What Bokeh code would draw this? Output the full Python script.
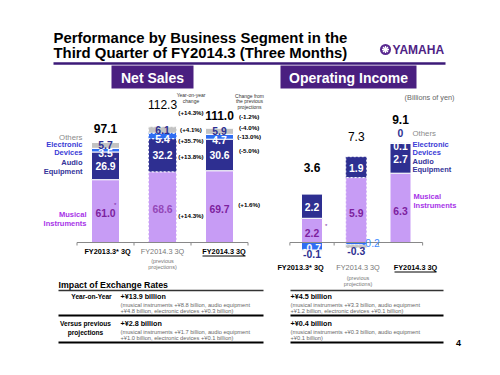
from bokeh.plotting import figure
from bokeh.models import Range1d
from bokeh.core.properties import value
from bokeh.embed import file_html
from bokeh.resources import INLINE

# ---------------- data ----------------
title_lines = ["Performance by Business Segment in the",
               "Third Quarter of FY2014.3 (Three Months)"]
periods = ["FY2013.3* 3Q", "FY2014.3 3Q", "FY2014.3 3Q"]
segments = ["Musical Instruments", "Audio Equipment", "Electronic Devices", "Others"]

ns_musical = [61.0, 68.6, 69.7]
ns_audio = [26.9, 32.2, 30.6]
ns_electronic = [3.5, 5.4, 4.7]
ns_others = [5.7, 6.1, 5.9]
ns_total = [97.1, 112.3, 111.0]
# order: musical, audio, electronic, others, total
ns_yoy = ["(+14.3%)", "(+13.8%)", "(+35.7%)", "(+4.1%)", "(+14.3%)"]
ns_vs_proj = ["(+1.6%)", "(-5.0%)", "(-13.0%)", "(-4.0%)", "(-1.2%)"]

oi_musical = [2.2, 5.9, 6.3]
oi_audio = [2.2, 1.9, 2.7]
oi_electronic = [-0.7, -0.2, 0.1]
oi_others = [-0.1, -0.3, 0.0]
oi_total = [3.6, 7.3, 9.1]

fx_rows = [["Year-on-Year"], ["Versus previous", "projections"]]
fx_ns_head = ["+¥13.9 billion", "+¥2.8 billion"]
fx_ns_detail = [["(musical instruments +¥8.8 billion, audio equipment",
                 "+¥4.8 billion, electronic devices +¥0.3 billion)"],
                ["(musical instruments +¥1.7 billion, audio equipment",
                 "+¥1.0 billion, electronic devices +¥0.1 billion)"]]
fx_oi_head = ["+¥4.5 billion", "+¥0.4 billion"]
fx_oi_detail = [["(musical instruments +¥3.3 billion, audio equipment",
                 "+¥1.2 billion, electronic devices +¥0.1 billion)"],
                ["(musical instruments +¥0.3 billion, audio equipment",
                 "+¥0.1 billion)"]]

# ---------------- styles ----------------
FONT = value("Liberation Sans")
PURPLE_DARK = "#4a1f80"
C_MI, C_AU, C_EL, C_OT = "#c79cf5", "#2e2f91", "#2f6df2", "#c3c3c3"
seg_colors = [C_MI, C_AU, C_EL, C_OT]
LBL_MI = "#7d1f9e"
LEG = {"Others": "#8a8a8a", "El": "#3a3ad6", "Au": "#333399", "MI": "#a733e8"}
NUM = 10.4     # in-bar numbers
TOT = 12.0     # totals
LEGF = 7.5     # side labels

# geometry (page pixel coordinates)
W, H = 484, 359
BASE = 242.0
NS_K, NS_X0, NS_DX, NS_W = 1.03, 105.0, 57.0, 28.0
OI_K, OI_X0, OI_DX, OI_W = 11.0, 311.5, 44.25, 21.0

p = figure(width=W, height=H, x_range=Range1d(0, W), y_range=Range1d(H, 0),
           output_backend="svg", toolbar_location=None, min_border=0,
           x_axis_location=None, y_axis_location=None)
p.grid.visible = False
p.outline_line_color = None
p.background_fill_color = "white"
p.border_fill_color = "white"

p.extra_y_ranges = {
    "ns": Range1d(start=(BASE - H) / NS_K, end=BASE / NS_K),
    "oi": Range1d(start=(BASE - H) / OI_K, end=BASE / OI_K),
}
p.extra_x_ranges = {
    "nsx": Range1d(start=-NS_X0 / NS_DX, end=(W - NS_X0) / NS_DX),
    "oix": Range1d(start=-OI_X0 / OI_DX, end=(W - OI_X0) / OI_DX),
}


def txt(x, y, s, size, color="black", bold=False, align="left", base="middle",
        xr="default", yr="default"):
    p.text(x=[x], y=[y], text=[s], text_font=FONT, text_font_size=f"{size}px",
           text_color=color, text_font_style="bold" if bold else "normal",
           text_align=align, text_baseline=base, x_range_name=xr, y_range_name=yr)


def stack(series):
    n = len(series[0])
    pos, neg = [0.0] * n, [0.0] * n
    out = []
    for s in series:
        b, t = [], []
        for i, v in enumerate(s):
            if v >= 0:
                b.append(pos[i]); pos[i] += v; t.append(pos[i])
            else:
                b.append(neg[i]); neg[i] += v; t.append(neg[i])
        out.append((b, t))
    return out, pos


def mid(st, k, i):
    return (st[k][0][i] + st[k][1][i]) / 2


# ---------------- header ----------------
txt(53, 37, title_lines[0], 14.9, bold=True)
txt(53, 52, title_lines[1], 14.9, bold=True)
p.segment(x0=[53], y0=[63], x1=[445], y1=[63], line_color="#3c1a78", line_width=2.5)
p.scatter(x=[385], y=[49], size=11, fill_color="#5a2a90", line_color=None)
p.scatter(x=[385], y=[49], size=7, marker="asterisk", line_color="white", line_width=1.3)
txt(392, 49.5, "YAMAHA", 12, color="#4e2385", bold=True)

p.quad(left=[111, 280], right=[193, 416], top=[65, 65], bottom=[88, 88],
       fill_color=PURPLE_DARK, line_color=None)
txt(152, 77, "Net Sales", 14, color="white", bold=True, align="center")
txt(348, 77, "Operating Income", 14, color="white", bold=True, align="center")
txt(454, 97, "(Billions of yen)", 7.3, color="#666666", align="right")

# ---------------- Net sales chart ----------------
ns_series = [ns_musical, ns_audio, ns_electronic, ns_others]
ns_st, ns_top = stack(ns_series)
for i in range(3):
    for k, s in enumerate(ns_series):
        b, t = ns_st[k][0][i], ns_st[k][1][i]
        if b == t:
            continue
        p.vbar(x=[i], bottom=[b], top=[t], width=NS_W / NS_DX, fill_color=seg_colors[k],
               line_color="white", line_width=1, line_dash="2 2" if i == 1 else "solid",
               x_range_name="nsx", y_range_name="ns")

p.segment(x0=[-0.5], x1=[2.5], y0=[0], y1=[0], line_color="#888888", line_width=1,
          x_range_name="nsx", y_range_name="ns")
p.segment(x0=[-0.5, 0.5, 1.5, 2.5], x1=[-0.5, 0.5, 1.5, 2.5], y0=[0] * 4,
          y1=[-3 / NS_K] * 4, line_color="#888888", x_range_name="nsx", y_range_name="ns")

ns_gap = [14, 22, 13]
for i in range(3):
    txt(i, mid(ns_st, 0, i) - 2 / NS_K, f"{ns_musical[i]:.1f}", NUM,
        color=LBL_MI if i != 1 else "#9448b8", bold=True, align="center", xr="nsx", yr="ns")
    txt(i, mid(ns_st, 1, i), f"{ns_audio[i]:.1f}", NUM, color="white", bold=True,
        align="center", xr="nsx", yr="ns")
    txt(i, mid(ns_st, 2, i) - 3 / NS_K, f"{ns_electronic[i]:.1f}", NUM, color="white",
        bold=True, align="center", xr="nsx", yr="ns")
    txt(i, mid(ns_st, 3, i), f"{ns_others[i]:.1f}", NUM, color=C_AU, bold=True,
        align="center", xr="nsx", yr="ns")
    txt(i, ns_top[i] + ns_gap[i] / NS_K, f"{ns_total[i]:.1f}", TOT,
        bold=(i != 1), align="center", xr="nsx", yr="ns")
txt(0.17, mid(ns_st, 1, 0) + 6 / NS_K, "*", 6, color="white", align="center", xr="nsx", yr="ns")
txt(0.17, mid(ns_st, 0, 0) + 6 / NS_K, "*", 6, color=LBL_MI, align="center", xr="nsx", yr="ns")

# change columns
yoy_dy = [-9, -2, -4, 2, 16]
prj_dy = [2, 4, 0, 4, 12]
txt(190.5, 94, "Year-on-year", 5, color="#333333", align="center")
txt(190.5, 100, "change", 5, color="#333333", align="center")
txt(249, 95, "Change from", 5, color="#333333", align="center")
txt(249, 100.5, "the previous", 5, color="#333333", align="center")
txt(249, 106, "projections", 5, color="#333333", align="center")
for k in range(5):
    yref = mid(ns_st, k, 2) if k < 4 else ns_top[2]
    txt(1.5, yref + yoy_dy[k] / NS_K, ns_yoy[k], 6.2, bold=True, align="center",
        xr="nsx", yr="ns")
    txt(2.52, yref + prj_dy[k] / NS_K, ns_vs_proj[k], 6.2, bold=True, align="center",
        xr="nsx", yr="ns")

# side labels (net sales)
txt(82, 137, "Others", LEGF + 0.3, color=LEG["Others"], align="right")
txt(82, 143.5, "Electronic", LEGF, color=LEG["El"], bold=True, align="right")
txt(82, 152, "Devices", LEGF, color=LEG["El"], bold=True, align="right")
txt(82, 162, "Audio", LEGF, color=LEG["Au"], bold=True, align="right")
txt(82, 170.5, "Equipment", LEGF, color=LEG["Au"], bold=True, align="right")
txt(86, 214, "Musical", LEGF, color=LEG["MI"], bold=True, align="right")
txt(86, 223, "Instruments", LEGF, color=LEG["MI"], bold=True, align="right")

ns_lab_x = [107, 162, 223.5]
txt(ns_lab_x[0], 251, periods[0], 7.3, bold=True, align="center")
txt(ns_lab_x[1], 251, periods[1], 7.3, color="#777777", align="center")
txt(ns_lab_x[1], 260, "(previous", 5.5, color="#777777", align="center")
txt(ns_lab_x[1], 266, "projections)", 5.5, color="#777777", align="center")
txt(ns_lab_x[2], 251, periods[2], 7.3, bold=True, align="center")
p.segment(x0=[202], x1=[245], y0=[255.5], y1=[255.5], line_color="black", line_width=1)

# ---------------- Operating income chart ----------------
oi_series = [oi_musical, oi_audio, oi_electronic, oi_others]
oi_st, oi_top = stack(oi_series)
for i in range(3):
    for k, s in enumerate(oi_series):
        b, t = oi_st[k][0][i], oi_st[k][1][i]
        if b == t:
            continue
        p.vbar(x=[i], bottom=[min(b, t)], top=[max(b, t)], width=OI_W / OI_DX,
               fill_color=seg_colors[k], line_color="white", line_width=1,
               line_dash="2 2" if i == 1 else "solid",
               x_range_name="oix", y_range_name="oi")
p.segment(x0=[-0.5], x1=[2.5], y0=[0], y1=[0], line_color="#888888", line_width=1,
          x_range_name="oix", y_range_name="oi")
p.segment(x0=[-0.5, 0.5, 1.5, 2.5], x1=[-0.5, 0.5, 1.5, 2.5], y0=[0] * 4,
          y1=[-3 / OI_K] * 4, line_color="#888888", x_range_name="oix", y_range_name="oi")

oi_gap = [27, 20, 23]
el_dx = [0.0, 0.33, 0.0]
el_dy = [-2, 0, -4]
el_col = ["white", "#3f8cff", "white"]
for i in range(3):
    txt(i, mid(oi_st, 0, i) - 3 / OI_K, f"{oi_musical[i]:.1f}", NUM, color=LBL_MI,
        bold=True, align="center", xr="oix", yr="oi")
    txt(i, mid(oi_st, 1, i) - 1 / OI_K, f"{oi_audio[i]:.1f}", NUM, color="white",
        bold=True, align="center", xr="oix", yr="oi")
    yel = mid(oi_st, 2, i) if oi_electronic[i] < 0 else oi_st[2][1][i]
    if i == 1:
        yel = 0
    txt(i + el_dx[i], yel + el_dy[i] / OI_K, f"{oi_electronic[i]:.1f}", NUM,
        color=el_col[i], bold=(i != 1), align="center", xr="oix", yr="oi")
    if oi_others[i] < 0:
        yo = oi_st[3][1][i] - 3 / OI_K
    else:
        yo = oi_top[i] + 9 / OI_K
    txt(i, yo, f"{oi_others[i]:.1f}" if oi_others[i] != 0 else "0", NUM, color=C_AU,
        bold=True, align="center", xr="oix", yr="oi")
    txt(i, oi_top[i] + oi_gap[i] / OI_K, f"{oi_total[i]:.1f}", TOT, bold=(i != 1),
        align="center", xr="oix", yr="oi")
txt(0.32, mid(oi_st, 1, 0) + 6 / OI_K, "*", 6, color="white", align="center", xr="oix", yr="oi")
txt(0.32, mid(oi_st, 0, 0) + 4 / OI_K, "*", 6, color=LBL_MI, align="center", xr="oix", yr="oi")

txt(412, 133, "Others", LEGF + 0.3, color=LEG["Others"])
txt(412, 143.5, "Electronic", LEGF, color=LEG["El"], bold=True)
txt(412, 152, "Devices", LEGF, color=LEG["El"], bold=True)
txt(412, 160.5, "Audio", LEGF, color=LEG["Au"], bold=True)
txt(412, 169, "Equipment", LEGF, color=LEG["Au"], bold=True)
txt(413, 196, "Musical", LEGF, color=LEG["MI"], bold=True)
txt(413, 205, "Instruments", LEGF, color=LEG["MI"], bold=True)

oi_lab_x = [300, 357.5, 415]
txt(oi_lab_x[0], 267, periods[0], 7.3, bold=True, align="center")
txt(oi_lab_x[1], 267, periods[1], 7.3, color="#777777", align="center")
txt(oi_lab_x[1], 277, "(previous", 5.5, color="#777777", align="center")
txt(oi_lab_x[1], 283, "projections)", 5.5, color="#777777", align="center")
txt(oi_lab_x[2], 267, periods[2], 7.3, bold=True, align="center")
p.segment(x0=[394], x1=[436], y0=[271.5], y1=[271.5], line_color="black", line_width=1)

# ---------------- Exchange rate table ----------------
txt(58, 284.5, "Impact of Exchange Rates", 8.8, bold=True)
p.segment(x0=[58, 290], x1=[263, 443], y0=[290, 290], y1=[290, 290],
          line_color="#333333", line_width=1.3)
p.segment(x0=[58, 290, 58, 290], x1=[263, 443, 263, 443], y0=[315, 315, 342, 342],
          y1=[315, 315, 342, 342], line_color="black", line_width=2)
row_head_y = [295.5, 322.5]
for r in range(2):
    lines = fx_rows[r]
    if len(lines) == 1:
        txt(91, 296, lines[0], 6.6, bold=True, align="center")
    else:
        txt(85, 323, lines[0], 6.6, bold=True, align="center")
        txt(85, 332, lines[1], 6.6, bold=True, align="center")
    txt(120, row_head_y[r], fx_ns_head[r], 7.2, bold=True)
    txt(290, row_head_y[r], fx_oi_head[r], 7.2, bold=True)
    for j in range(2):
        txt(120, row_head_y[r] + 8.5 + 6.5 * j, fx_ns_detail[r][j], 5.7, color="#666666")
        txt(290, row_head_y[r] + 8.5 + 6.5 * j, fx_oi_detail[r][j], 5.7, color="#666666")

txt(458, 342, "4", 9, bold=True, align="center")

open("out.html", "w").write(file_html(p, INLINE))
